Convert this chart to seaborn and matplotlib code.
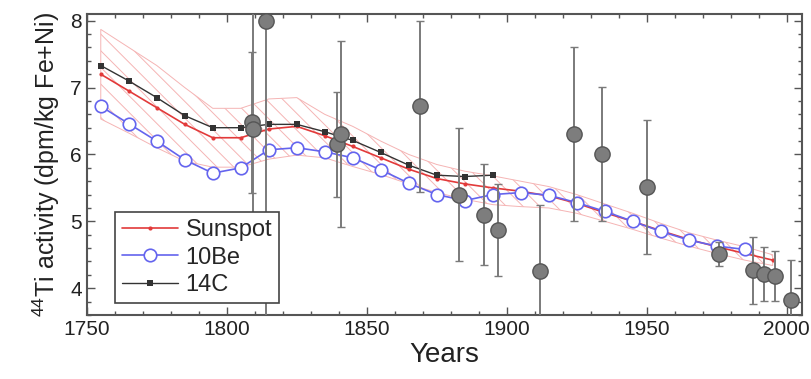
import matplotlib
matplotlib.use("Agg")
import matplotlib.pyplot as plt
import seaborn as sns
from matplotlib.ticker import MultipleLocator

# Model curves (10-year steps)
sun_years = [1755, 1765, 1775, 1785, 1795, 1805, 1815, 1825, 1835, 1845, 1855, 1865,
             1875, 1885, 1895, 1905, 1915, 1925, 1935, 1945, 1955, 1965, 1975, 1985, 1995]
sunspot = [7.20, 6.95, 6.70, 6.45, 6.25, 6.25, 6.38, 6.42, 6.28, 6.12, 5.95, 5.78,
           5.64, 5.56, 5.50, 5.45, 5.38, 5.27, 5.13, 5.00, 4.86, 4.73, 4.62, 4.52, 4.42]
band_hi = [7.87, 7.60, 7.33, 7.00, 6.69, 6.69, 6.83, 6.85, 6.60, 6.42, 6.20, 6.00,
           5.85, 5.75, 5.68, 5.60, 5.52, 5.40, 5.26, 5.12, 4.97, 4.83, 4.72, 4.62, 4.50]
band_lo = [6.53, 6.32, 6.10, 5.90, 5.81, 5.81, 5.93, 5.99, 5.95, 5.82, 5.70, 5.56,
           5.43, 5.33, 5.25, 5.22, 5.20, 5.12, 5.00, 4.88, 4.75, 4.63, 4.52, 4.42, 4.34]

be_years = [1755, 1765, 1775, 1785, 1795, 1805, 1815, 1825, 1835, 1845, 1855, 1865,
            1875, 1885, 1895, 1905, 1915, 1925, 1935, 1945, 1955, 1965, 1975, 1985]
be10 = [6.72, 6.46, 6.20, 5.92, 5.72, 5.80, 6.07, 6.10, 6.04, 5.95, 5.77, 5.57,
        5.40, 5.31, 5.40, 5.43, 5.39, 5.28, 5.15, 5.00, 4.85, 4.72, 4.63, 4.58]

c_years = [1755, 1765, 1775, 1785, 1795, 1805, 1815, 1825, 1835, 1845, 1855, 1865,
           1875, 1885, 1895]
c14 = [7.33, 7.10, 6.85, 6.58, 6.40, 6.40, 6.45, 6.45, 6.34, 6.21, 6.03, 5.84,
       5.69, 5.67, 5.69]

# Meteorite measurements
obs_years = [1809.0, 1809.5, 1814.0, 1839.3, 1840.7, 1869.0, 1883.0, 1892.0, 1897.0,
             1912.0, 1924.0, 1934.0, 1950.0, 1976.0, 1988.0, 1992.0, 1996.0, 2001.4]
obs_vals = [6.48, 6.38, 8.00, 6.15, 6.30, 6.72, 5.40, 5.10, 4.87,
            4.25, 6.31, 6.01, 5.51, 4.51, 4.27, 4.21, 4.18, 3.82]
obs_err = [1.05, 2.20, 4.50, 0.78, 1.39, 1.28, 1.00, 0.76, 0.69,
           1.00, 1.30, 1.00, 1.00, 0.18, 0.50, 0.40, 0.37, 0.60]

x_ticks = [1750, 1800, 1850, 1900, 1950, 2000]
y_ticks = [4, 5, 6, 7, 8]

sns.set_style("ticks")
plt.rcParams['font.family'] = ['Liberation Sans', 'DejaVu Sans']
plt.rcParams['mathtext.fontset'] = 'custom'
plt.rcParams['mathtext.rm'] = 'Liberation Sans'
plt.rcParams['hatch.linewidth'] = 0.7

fig = plt.figure(figsize=(8.11, 3.79), dpi=100)
ax = fig.add_axes([0.107, 0.169, 0.882, 0.794])

# hatched uncertainty band
ax.fill_between(sun_years, band_lo, band_hi, facecolor='none', edgecolor='#f5b4b4',
                hatch='\\\\', linewidth=0.7, zorder=1)

sns.lineplot(x=sun_years, y=sunspot, ax=ax, color='#e23a3a', marker='o', markersize=3,
             markeredgewidth=0, linewidth=1.2, label='Sunspot', zorder=3)
sns.lineplot(x=be_years, y=be10, ax=ax, color='#6464ee', marker='o', markersize=9,
             markerfacecolor='white', markeredgecolor='#6464ee', markeredgewidth=1.2,
             linewidth=1.2, label='10Be', zorder=3)
sns.lineplot(x=c_years, y=c14, ax=ax, color='#333333', marker='s', markersize=5,
             markeredgewidth=0, linewidth=1.0, label='14C', zorder=3)

ax.errorbar(obs_years, obs_vals, yerr=obs_err, fmt='o', ms=11, mfc='#7d7d7d', mec='#555555',
            mew=1.0, ecolor='#7a7a7a', elinewidth=1.4, capsize=3, capthick=1.2, zorder=4)

ax.set_xlim(1750, 2005.5)
ax.set_ylim(3.6, 8.1)
ax.set_xticks(x_ticks)
ax.set_yticks(y_ticks)
ax.xaxis.set_minor_locator(MultipleLocator(10))
ax.yaxis.set_minor_locator(MultipleLocator(0.2))
ax.tick_params(which='both', direction='in', top=True, right=True, colors='#555555',
               labelcolor='#222222', labelsize=15, width=1.0)
ax.tick_params(which='major', length=6)
ax.tick_params(which='minor', length=3)
for s in ax.spines.values():
    s.set_color('#555555')
    s.set_linewidth(1.5)

ax.set_xlabel('Years', fontsize=20, color='#222222', labelpad=2)
ax.set_ylabel('$^{44}$Ti activity (dpm/kg Fe+Ni)', fontsize=18, color='#222222', labelpad=6)

leg = ax.legend(loc='lower left', bbox_to_anchor=(0.039, 0.04), fontsize=17, frameon=True,
                fancybox=False, edgecolor='#444444', framealpha=1, handlelength=2.4,
                borderpad=0.3, labelspacing=0.22, handletextpad=0.3, borderaxespad=0)
leg.get_frame().set_linewidth(1.2)
leg.set_zorder(10)

fig.savefig('out.png', dpi=100)
